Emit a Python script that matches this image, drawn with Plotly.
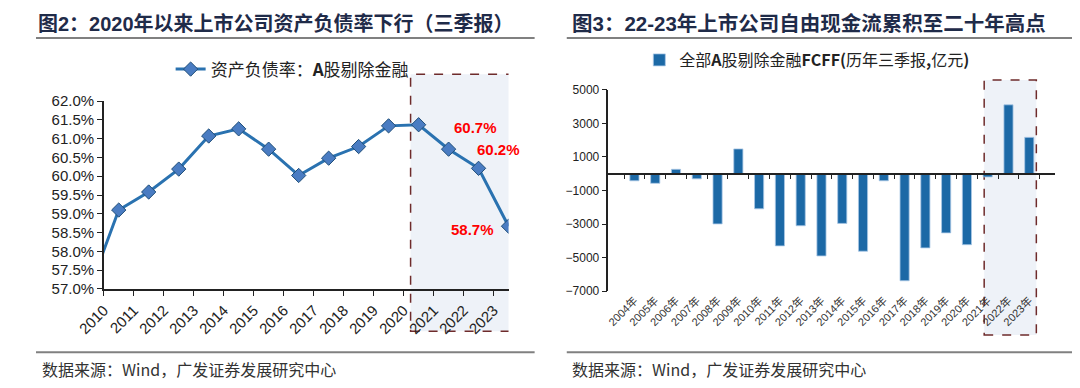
import plotly.graph_objects as go

# ---------------- data ----------------
# Left: debt-to-asset ratio of A shares ex-financials (Q3 reports), %
ratio_years = [2009, 2010, 2011, 2012, 2013, 2014, 2015, 2016, 2017, 2018, 2019, 2020, 2021, 2022, 2023]
debt_ratio = [56.95, 59.10, 59.58, 60.19, 61.07, 61.26, 60.72, 60.02, 60.48, 60.79, 61.34, 61.37, 60.72, 60.21, 58.67]
callout_years = [2021, 2022, 2023]
callout_values = [60.72, 60.21, 58.67]
callout_text = ["60.7%", "60.2%", "58.7%"]

# Right: FCFF of all A shares ex-financials (Q3 reports, 100m CNY)
fcff_years = [2004, 2005, 2006, 2007, 2008, 2009, 2010, 2011, 2012, 2013,
              2014, 2015, 2016, 2017, 2018, 2019, 2020, 2021, 2022, 2023]
fcff_values = [-420, -570, 265, -305, -2990, 1480, -2090, -4300, -3100, -4900,
               -2960, -4620, -420, -6380, -4420, -3525, -4230, -190, 4110, 2170]

# ---------------- styling ----------------
# page body has an 8px margin, so the figure is drawn 8px in from the window edge
OFF = 8
W, H = 1080 - OFF, 388 - OFF
LAT = "Liberation Sans, Arial, Noto Sans CJK SC"
CJK = "Noto Sans CJK SC, Liberation Sans"
TITLE_COLOR = "#1F2B49"
BOX_FILL = "#EEF2F8"
BOX_LINE = "#6E2B2B"


def px_x(p):
    return (p - OFF) / W


def px_y(p):
    return 1 - (p - OFF) / H


ratio_dates = [f"{y}-07-01" for y in ratio_years]
fcff_cats = [f"{y}年" for y in fcff_years]

fig = go.Figure()

fig.add_trace(go.Scatter(
    x=ratio_dates, y=debt_ratio, mode="lines+markers",
    name="资产负债率：<b>A</b>股剔除金融",
    line=dict(color="#2A72B0", width=3),
    marker=dict(symbol="diamond", size=11, color="#4A7CC2",
                line=dict(color="#1F4E79", width=1)),
    xaxis="x", yaxis="y", legend="legend",
))

fig.add_trace(go.Bar(
    x=fcff_cats, y=fcff_values,
    name="全部<b>A</b>股剔除金融<b>FCFF(</b>历年三季报<b>,</b>亿元<b>)</b>",
    marker=dict(color="#1C69A6", line=dict(color="#A9C8E6", width=0.8)),
    width=0.44,
    xaxis="x2", yaxis="y2", legend="legend2",
))

# invisible helper trace for the tick marks on the zero line
fig.add_trace(go.Scatter(
    x=fcff_cats, y=[0] * len(fcff_cats), mode="markers",
    marker=dict(opacity=0), showlegend=False, hoverinfo="skip",
    xaxis="x3", yaxis="y2",
))

# callout labels
annotations = []
shifts = [(27, 22), (20, 19), (-36, -3)]
for yr, val, txt, (dx, dy) in zip(callout_years, callout_values, callout_text, shifts):
    annotations.append(dict(
        x=f"{yr}-07-01", y=val, xref="x", yref="y", text=f"<b>{txt}</b>",
        showarrow=False, xshift=dx, yshift=dy,
        font=dict(family=LAT, size=15, color="#FF0000"),
    ))

# titles
annotations.append(dict(
    x=px_x(8), y=px_y(15), xref="paper", yref="paper", xanchor="left", yanchor="middle",
    text="<b>图2：2020年以来上市公司资产负债率下行（三季报）</b>", showarrow=False,
    font=dict(family=LAT, size=20, color=TITLE_COLOR),
))
annotations.append(dict(
    x=px_x(556), y=px_y(15), xref="paper", yref="paper", xanchor="left", yanchor="middle",
    text="<b>图3：22-23年上市公司自由现金流累积至二十年高点</b>", showarrow=False,
    font=dict(family=LAT, size=20.5, color=TITLE_COLOR),
))
# sources
for x0 in (12, 556):
    annotations.append(dict(
        x=px_x(x0), y=px_y(377), xref="paper", yref="paper", xanchor="left", yanchor="middle",
        text="数据来源：Wind，广发证券发展研究中心", showarrow=False,
        font=dict(family=CJK, size=16, color="#333333"),
    ))

shapes = []
# highlight boxes
shapes.append(dict(
    type="rect", xref="x", yref="paper",
    x0="2020-03-25", x1="2023-09-10", y0=px_y(337), y1=px_y(68),
    fillcolor=BOX_FILL, line=dict(color=BOX_LINE, width=1.5, dash="dash"), layer="below",
))
shapes.append(dict(
    type="rect", xref="x2", yref="paper",
    x0=16.83, x1=19.34, y0=px_y(341), y1=px_y(74),
    fillcolor=BOX_FILL, line=dict(color=BOX_LINE, width=1.5, dash="dash"), layer="below",
))
# header/footer rules
for (a, b) in ((8, 520), (553, 1079)):
    for yy in (30, 359):
        shapes.append(dict(
            type="line", xref="paper", yref="paper",
            x0=px_x(a), x1=px_x(b), y0=px_y(yy), y1=px_y(yy),
            line=dict(color="#808080", width=2),
        ))

left_dom_x = [px_x(77.7), px_x(493.2)]
left_dom_y = [px_y(292.7), px_y(96)]
right_dom_x = [px_x(595.8), px_x(1054.6)]
right_dom_y = [px_y(295), px_y(84.3)]

fig.update_layout(
    width=W, height=H,
    margin=dict(l=0, r=0, t=0, b=0),
    paper_bgcolor="white", plot_bgcolor="rgba(0,0,0,0)",
    font=dict(family=LAT, color="#222222"),
    showlegend=True,
    xaxis=dict(
        domain=left_dom_x, anchor="y", type="date",
        range=["2010-01-01", "2023-07-01"],
        tick0="2010-01-01", dtick="M12", tickformat="%Y",
        tickangle=-45, ticks="outside", ticklen=5, tickcolor="#222",
        showline=True, linecolor="#222", linewidth=1.5,
        showgrid=False, zeroline=False,
        tickfont=dict(family=LAT, size=15, color="#222"),
    ),
    yaxis=dict(
        domain=left_dom_y, anchor="x", range=[57, 62], dtick=0.5,
        tickformat=".1f", ticksuffix="%",
        ticks="outside", ticklen=5, tickcolor="#222",
        showline=True, linecolor="#222", linewidth=1.5,
        showgrid=False, zeroline=False,
        tickfont=dict(family=LAT, size=15, color="#222"),
    ),
    xaxis2=dict(
        domain=right_dom_x, anchor="y2", type="category",
        tickangle=-45, ticks="", showline=False, showgrid=False, zeroline=False,
        tickfont=dict(family=LAT, size=11, color="#333"),
    ),
    yaxis2=dict(
        domain=right_dom_y, anchor="x2", range=[-7000, 5000], dtick=2000, tick0=-7000,
        ticks="outside", ticklen=5, tickcolor="#222",
        showline=True, linecolor="#222", linewidth=1.5,
        showgrid=False, zeroline=False,
        tickfont=dict(family=LAT, size=12, color="#222"),
    ),
    xaxis3=dict(
        domain=right_dom_x, anchor="free", overlaying="x2", matches="x2",
        position=right_dom_y[0] + (0 - (-7000)) / 12000 * (right_dom_y[1] - right_dom_y[0]),
        type="category", showticklabels=False, ticks="outside", ticklen=4,
        tickcolor="#222", tickson="boundaries",
        showline=True, linecolor="#222", linewidth=1.5, showgrid=False, zeroline=False,
    ),
    legend=dict(
        x=px_x(271), y=px_y(63), xanchor="center", yanchor="middle",
        bgcolor="rgba(0,0,0,0)", orientation="h",
        font=dict(family=CJK, size=17, color="#222"),
    ),
    legend2=dict(
        x=px_x(800), y=px_y(53), xanchor="center", yanchor="middle",
        bgcolor="rgba(0,0,0,0)", orientation="h",
        font=dict(family=CJK, size=16, color="#222"),
    ),
    annotations=annotations,
    shapes=shapes,
)

fig.write_html("out.html")
